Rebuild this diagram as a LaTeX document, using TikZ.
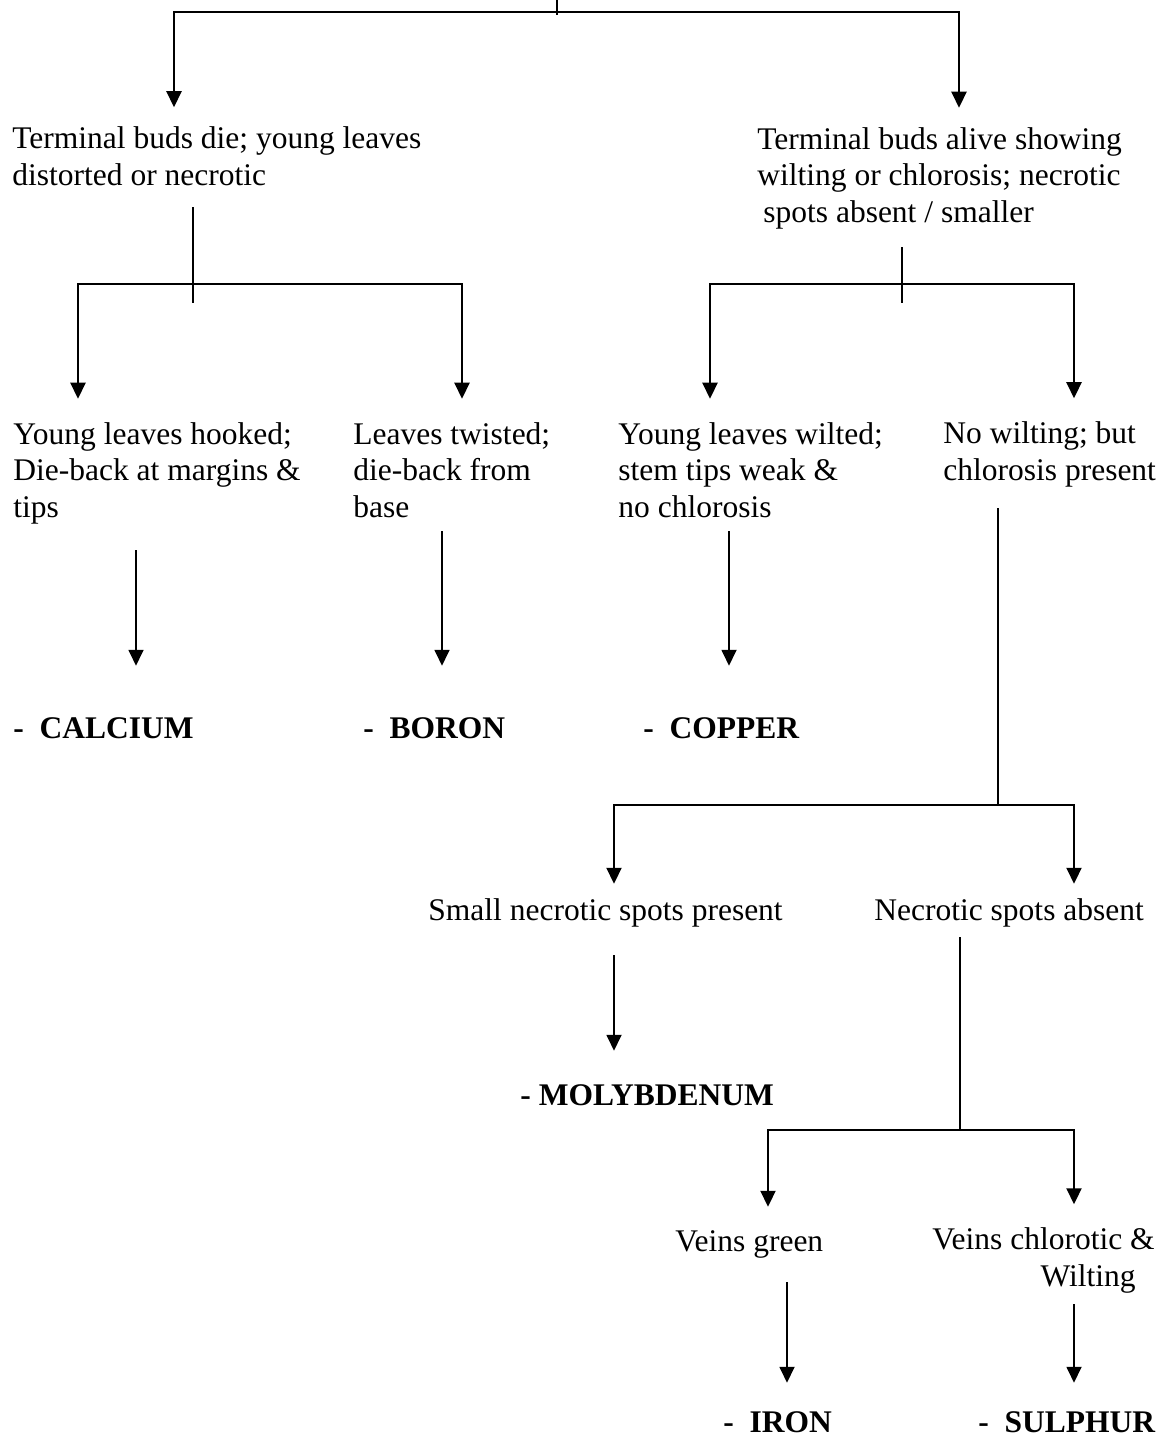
\documentclass[tikz,border=0pt]{standalone}
\usepackage{fontspec}
\setmainfont{Liberation Serif}
\usetikzlibrary{arrows.meta}

\tikzset{
  txt/.style={anchor=base west,inner sep=0pt,align=left,font=\fontsize{15.75}{18.25}\selectfont},
  elem/.style={txt,font=\fontsize{15.75}{18.25}\selectfont\bfseries},
  stem/.style={line width=0.6pt},
  fork/.style={line width=1.1pt,<->},
  res/.style={line width=0.9pt,->}
}

\begin{document}
\begin{tikzpicture}[x=0.5pt,y=-0.5pt,>={Triangle[width=7.5pt,length=8pt]}]
  \useasboundingbox (0,0) rectangle (1170,1440);
  % column positions of the arrows
  \coordinate (x1) at (174,0);
  \coordinate (x2) at (959,0);
  \coordinate (x3) at (78,0);
  \coordinate (x4) at (462,0);
  \coordinate (x5) at (710,0);
  \coordinate (x6) at (1074,0);
  \coordinate (x7) at (614,0);
  \coordinate (x8) at (768,0);

  % multi-line nodes sit on the baseline of their last line
  \node[txt] (tdie) at (12,185) {Terminal buds die; young leaves\\distorted or necrotic};
  \node[txt] (talive) at (757,222) {Terminal buds alive showing\\wilting or chlorosis; necrotic\\\hspace*{3pt}spots absent / smaller};
  \node[txt] (hook) at (13,517) {Young leaves hooked;\\Die-back at margins \&\\tips};
  \node[txt] (twist) at (353,517) {Leaves twisted;\\die-back from\\base};
  \node[txt] (wilt) at (618,517) {Young leaves wilted;\\stem tips weak \&\\no chlorosis};
  \node[txt] (nowilt) at (943,480) {No wilting; but\\chlorosis present};
  \node[elem] (ca) at (13,738) {-\ \ CALCIUM};
  \node[elem] (bo) at (363,738) {-\ \ BORON};
  \node[elem] (cu) at (643,738) {-\ \ COPPER};
  \node[txt] (small) at (428,920) {Small necrotic spots present};
  \node[txt] (absent) at (874,920) {Necrotic spots absent};
  \node[elem] (mo) at (520,1105) {- MOLYBDENUM};
  \node[txt] (green) at (675,1251) {Veins green};
  \node[txt,align=right] (chlor) at (932,1286) {Veins chlorotic \&\\Wilting\hspace*{9.5pt}};
  \node[elem] (fe) at (723,1432) {-\ \ IRON};
  \node[elem] (su) at (978,1432) {-\ \ SULPHUR};

  \coordinate (top) at (557,0);
  \coordinate (j0) at (557,12);
  \draw[stem] (top) -- ++(0,15);
  \draw[fork,shorten <=9.5pt,shorten >=9.5pt] (tdie.north -| x1) |- (j0) -| (talive.north -| x2);

  \coordinate (sL) at (193,207);
  \coordinate (jL) at (193,284);
  \draw[stem] (sL) -- ++(0,96);
  \draw[fork,shorten <=11.5pt,shorten >=11.5pt] (hook.north -| x3) |- (jL) -| (twist.north -| x4);

  \coordinate (sR) at (902,247);
  \coordinate (jR) at (902,284);
  \draw[stem] (sR) -- ++(0,56);
  \draw[fork,shorten <=11.5pt,shorten >=11.5pt] (wilt.north -| x5) |- (jR) -| (nowilt.north -| x6);

  \coordinate (rCa) at (136,550);
  \coordinate (rB) at (442,531);
  \coordinate (rCu) at (729,531);
  \draw[res,shorten >=25.5pt] (rCa) -- (rCa |- ca.north);
  \draw[res,shorten >=25.5pt] (rB) -- (rB |- bo.north);
  \draw[res,shorten >=25.5pt] (rCu) -- (rCu |- cu.north);

  \coordinate (sM) at (998,508);
  \coordinate (jM) at (998,805);
  \draw[stem] (sM) -- (jM);
  \draw[fork,shorten <=7pt,shorten >=7pt] (small.north -| x7) |- (jM) -| (absent.north -| x6);

  \coordinate (rMo) at (614,955);
  \draw[res,shorten >=16.5pt] (rMo) -- (rMo |- mo.north);

  \coordinate (sB) at (960,937);
  \coordinate (jB) at (960,1130);
  \draw[stem] (sB) -- (jB);
  \draw[fork,shorten <=11.5pt,shorten >=11.5pt] (green.north -| x8) |- (jB) -| (chlor.north -| x6);

  \coordinate (rFe) at (787,1282);
  \coordinate (rS) at (1074,1304);
  \draw[res,shorten >=14pt] (rFe) -- (rFe |- fe.north);
  \draw[res,shorten >=14pt] (rS) -- (rS |- su.north);
\end{tikzpicture}
\end{document}
